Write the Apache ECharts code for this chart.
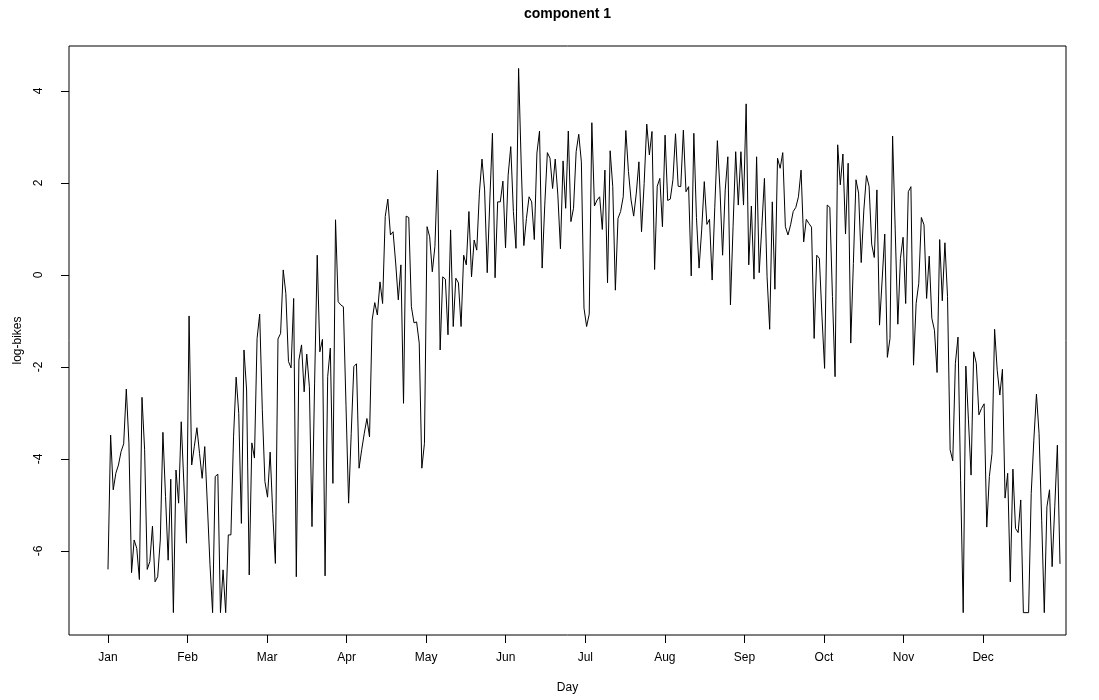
<!DOCTYPE html>
<html>
<head>
<meta charset="utf-8">
<script src="https://cdn.jsdelivr.net/npm/echarts@6/dist/echarts.min.js"></script>
<style>
  html, body { margin: 0; padding: 0; background: #ffffff; }
  #chart { width: 1099px; height: 700px; }
</style>
</head>
<body>
<div id="chart"></div>
<script>
// Daily log-bikes values, component 1 (one value per day of the year)
const logBikes = [
  -6.40, -3.48, -4.67, -4.31, -4.13, -3.84, -3.67, -2.48, -3.65, -6.47,
  -5.76, -5.94, -6.62, -2.66, -3.80, -6.40, -6.23, -5.46, -6.67, -6.56,
  -5.76, -3.42, -4.82, -6.20, -4.44, -7.34, -4.24, -4.96, -3.19, -4.52,
  -5.83, -0.89, -4.13, -3.73, -3.32, -3.88, -4.42, -3.73, -5.00, -6.30,
  -7.34, -4.38, -4.33, -7.34, -6.41, -7.34, -5.65, -5.65, -3.52, -2.22,
  -3.01, -5.40, -1.63, -2.50, -6.52, -3.65, -3.98, -1.38, -0.85, -2.93,
  -4.49, -4.83, -3.85, -5.18, -6.27, -1.39, -1.27, 0.11, -0.40, -1.88,
  -2.02, -0.51, -6.56, -1.85, -1.52, -2.54, -1.72, -2.43, -5.47, -2.35,
  0.43, -1.67, -1.40, -6.54, -2.21, -1.59, -4.53, 1.20, -0.58, -0.65,
  -0.69, -2.83, -4.96, -3.44, -1.99, -1.93, -4.20, -3.80, -3.44, -3.12,
  -3.52, -0.98, -0.60, -0.87, -0.15, -0.62, 1.27, 1.65, 0.87, 0.94,
  0.26, -0.54, 0.22, -2.79, 1.28, 1.25, -0.69, -1.04, -1.02, -1.48,
  -4.20, -3.66, 1.05, 0.83, 0.07, 0.62, 2.28, -1.63, -0.04, -0.09,
  -1.30, 0.98, -1.12, -0.07, -0.17, -1.12, 0.43, 0.22, 1.38, -0.04,
  0.76, 0.54, 1.78, 2.52, 1.85, 0.05, 1.63, 3.08, -0.06, 1.59,
  1.59, 2.04, 0.59, 2.17, 2.79, 1.38, 0.58, 4.49, 2.39, 0.64,
  1.23, 1.70, 1.59, 0.77, 2.65, 3.13, 0.15, 1.52, 2.66, 2.54,
  1.88, 2.52, 1.74, 0.57, 2.48, 1.45, 3.13, 1.16, 1.45, 2.68,
  3.06, 2.46, -0.72, -1.12, -0.85, 3.31, 1.50, 1.63, 1.70, 0.99,
  2.28, -0.17, 2.70, 1.92, -0.33, 1.23, 1.38, 1.70, 3.14, 2.25,
  1.63, 1.28, 1.78, 2.46, 0.94, 1.99, 3.28, 2.61, 3.12, 0.12,
  1.93, 2.10, 1.05, 3.04, 1.62, 1.65, 2.07, 3.07, 1.93, 1.92,
  3.15, 1.81, 1.92, -0.02, 3.08, 1.25, 0.15, 0.98, 2.03, 1.10,
  1.21, -0.11, 1.46, 2.92, 1.85, 0.43, 1.85, 2.57, -0.65, 1.05,
  2.68, 1.52, 2.68, 1.52, 3.72, 0.22, 1.50, -0.09, 2.57, 0.05,
  1.05, 2.10, -0.04, -1.18, 1.59, -0.31, 2.54, 2.32, 2.66, 1.05,
  0.87, 1.09, 1.38, 1.47, 1.70, 2.28, 0.72, 1.21, 1.12, 1.04,
  -1.38, 0.43, 0.36, -0.91, -2.03, 1.52, 1.47, -0.47, -2.21, 2.83,
  1.96, 2.63, 0.89, 2.43, -1.48, 0.25, 2.07, 1.78, 0.27, 1.41,
  2.16, 1.93, 0.67, 0.38, 1.85, -1.09, -0.11, 0.89, -1.79, -1.38,
  3.02, 0.98, -1.07, 0.36, 0.82, -0.62, 1.81, 1.92, -1.96, -0.62,
  -0.18, 1.25, 1.09, -0.51, 0.41, -0.94, -1.20, -2.12, 0.77, -0.56,
  0.70, -0.47, -3.80, -4.04, -1.92, -1.35, -4.46, -7.34, -1.98, -3.15,
  -4.35, -1.67, -1.92, -3.04, -2.90, -2.80, -5.48, -4.38, -3.88, -1.18,
  -2.07, -2.61, -2.05, -4.85, -4.31, -6.67, -4.22, -5.51, -5.60, -4.89,
  -7.34, -7.34, -7.34, -4.75, -3.59, -2.59, -3.44, -5.33, -7.34, -5.04,
  -4.67, -6.34, -5.04, -3.70, -6.28
];

// Month labels along the day axis (evenly spaced, 365/12 days apart)
const monthLabels = ['Jan', 'Feb', 'Mar', 'Apr', 'May', 'Jun', 'Jul', 'Aug', 'Sep', 'Oct', 'Nov', 'Dec'];
// Y tick values
const yTickValues = [-6, -4, -2, 0, 2, 4];

const daysInYear = 365;
const monthTickDays = monthLabels.map((_, k) => 1 + k * daysInYear / 12);
const seriesData = logBikes.map((v, i) => [i + 1, v]);

const FONT = 'Liberation Sans, Arial, Helvetica, sans-serif';
const chart = echarts.init(document.getElementById('chart'), null, { renderer: 'canvas' });

const gridLeft = 69, gridRight = 33, gridTop = 46, gridBottom = 65;

chart.setOption({
  animation: false,
  backgroundColor: '#ffffff',
  grid: {
    left: gridLeft, right: gridRight, top: gridTop, bottom: gridBottom,
    show: true, borderColor: '#000000', borderWidth: 1, backgroundColor: 'transparent'
  },
  xAxis: {
    type: 'value',
    position: 'bottom',
    min: -13.91,
    max: 367.3,
    axisLine: { show: false, onZero: false },
    splitLine: { show: false },
    axisTick: {
      show: true, inside: false, length: 8,
      customValues: monthTickDays,
      lineStyle: { color: '#000000', width: 1 }
    },
    axisLabel: {
      customValues: monthTickDays,
      formatter: v => monthLabels[Math.round((v - 1) * 12 / daysInYear)],
      margin: 17, color: '#000000', fontSize: 12, fontFamily: FONT
    }
  },
  yAxis: {
    type: 'value',
    position: 'left',
    min: -7.826,
    max: 4.978,
    axisLine: { show: false, onZero: false },
    splitLine: { show: false },
    axisTick: {
      show: true, inside: false, length: 8,
      customValues: yTickValues,
      lineStyle: { color: '#000000', width: 1 }
    },
    axisLabel: {
      customValues: yTickValues,
      formatter: v => String(v),
      rotate: 90,
      margin: 24, color: '#000000', fontSize: 12, fontFamily: FONT
    }
  },
  graphic: [
    {
      type: 'text', x: (gridLeft + 1099 - gridRight) / 2, y: 14,
      style: { text: 'component 1', font: 'bold 14px ' + FONT, fill: '#000000',
               textAlign: 'center', textVerticalAlign: 'middle' }
    },
    {
      type: 'text', x: (gridLeft + 1099 - gridRight) / 2, y: 688,
      style: { text: 'Day', font: '12px ' + FONT, fill: '#000000',
               textAlign: 'center', textVerticalAlign: 'middle' }
    },
    {
      type: 'text', x: 18, y: (gridTop + 700 - gridBottom) / 2, rotation: Math.PI / 2,
      style: { text: 'log-bikes', font: '12px ' + FONT, fill: '#000000',
               textAlign: 'center', textVerticalAlign: 'middle' }
    }
  ],
  series: [{
    type: 'line',
    data: seriesData,
    showSymbol: false,
    symbol: 'none',
    lineStyle: { color: '#000000', width: 1 },
    clip: true
  }]
});
</script>
</body>
</html>
